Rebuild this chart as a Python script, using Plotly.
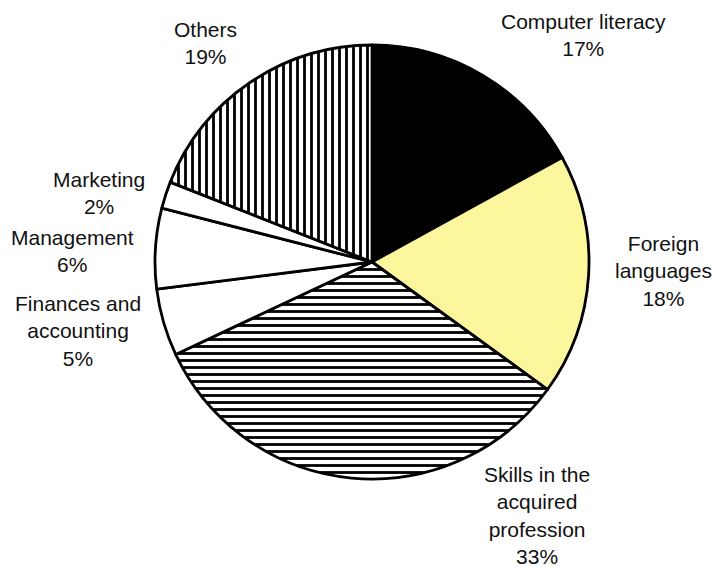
import plotly.graph_objects as go

categories = ["Computer literacy", "Foreign languages", "Skills in the acquired profession",
              "Finances and accounting", "Management", "Marketing", "Others"]
values = [17, 18, 33, 5, 6, 2, 19]
# label line breaks (display text)
label_lines = [["Computer literacy"], ["Foreign", "languages"], ["Skills in the", "acquired", "profession"],
               ["Finances and", "accounting"], ["Management"], ["Marketing"], ["Others"]]

# styles
colors = ["#000000", "#FCF79C", "#FFFFFF", "#FFFFFF", "#FFFFFF", "#FFFFFF", "#FFFFFF"]
shapes = ["", "", "-", "", "", "", "|"]
# label centers in pixels (x, y of first line)
label_pos = [(583, 20), (663, 242), (537, 473), (78, 302), (72, 236), (99, 178), (205, 28)]

W, H = 713, 567
fig = go.Figure(go.Pie(
    labels=categories, values=values, sort=False, direction="clockwise", rotation=0,
    textinfo="none", hoverinfo="label+percent",
    marker=dict(colors=colors, line=dict(color="black", width=2.8),
                pattern=dict(shape=shapes, fgcolor="black", bgcolor="white", size=7, solidity=0.4)),
    domain=dict(x=[155 / W, 589 / W], y=[1 - 479 / H, 1 - 45 / H]),
    showlegend=False,
))

annotations = []
for lines, v, (px, py) in zip(label_lines, values, label_pos):
    text = "<br>".join(lines + [f"{v}%"])
    annotations.append(dict(
        x=px / W, y=1 - (py - 12) / H, xref="paper", yref="paper",
        xanchor="center", yanchor="top", text=text, showarrow=False, align="center",
        font=dict(family="Liberation Sans, Arial", size=21, color="#111111"),
    ))

fig.update_layout(width=W, height=H, margin=dict(l=0, r=0, t=0, b=0),
                  paper_bgcolor="white", plot_bgcolor="white", annotations=annotations)
fig.write_html("out.html", config={"displayModeBar": False},
               post_script="document.body.style.margin='0';")
